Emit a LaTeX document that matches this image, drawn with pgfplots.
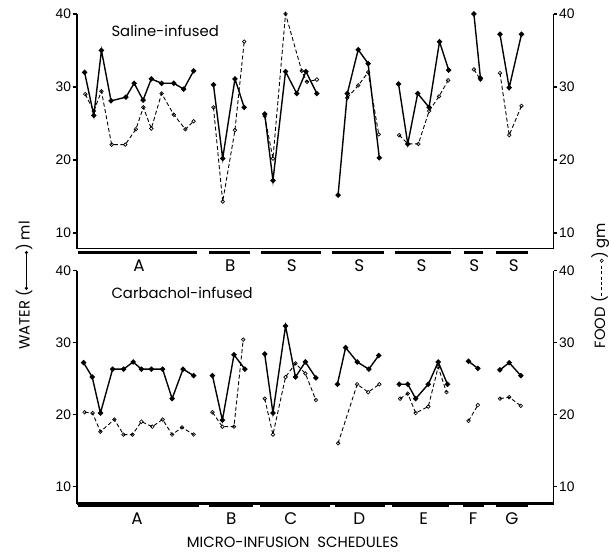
\documentclass[border=0pt]{standalone}
\usepackage{pgfplots}
\pgfplotsset{compat=1.18}
\usepackage{fontspec}
\setmainfont{Poppins}
\newfontfamily\numfont{Liberation Sans}
\newsavebox\waterkey
\newsavebox\foodkey

\pgfplotsset{
  panel/.style={
    scale only axis, width=481bp, xmin=72, xmax=553, ymax=40,
    ytick={10,20,30,40}, xtick=\empty, tick align=outside,
    major tick length=4bp,
    every tick/.style={line width=1.3bp, black},
    axis line style={line width=1.8bp, -},
    tick label style={font=\numfont\fontsize{14}{16}\selectfont},
    yticklabel style={inner xsep=1.5bp},
    /pgf/number format/assume math mode=true,
    clip=false,
  },
  water/.style={black, line width=1.4bp, mark=*, mark size=1.9bp},
  food/.style={black, line width=0.9bp, dash pattern=on 4bp off 2.5bp,
    mark=o, mark size=1.8bp, mark options={solid, fill=white, line width=0.7bp}},
}

\begin{document}
\sbox\waterkey{\tikz[baseline=-0.6ex]{\draw[line width=1bp] (0,0)--(36bp,0); \fill (0,0) circle (1.7bp) (36bp,0) circle (1.7bp);}}
\sbox\foodkey{\tikz[baseline=-0.6ex]{\draw[line width=0.8bp,dash pattern=on 3bp off 2.5bp] (0,0)--(34bp,0); \draw[line width=0.6bp,fill=white] (35.5bp,0) circle (1.6bp);}}
\begin{tikzpicture}
\path[use as bounding box] (0,0) rectangle (611bp,556bp);

% ---- saline-infused (top) ----
\begin{axis}[panel, at={(72bp,305bp)}, anchor=south west, height=237bp, ymin=7.84,
  axis x line*=bottom, axis y line*=left, x axis line style={line width=1.3bp}]
\addplot[food] coordinates {(80.7,29.0)(89.3,26.7)(97,29.4)(107.3,22.1)(121,22.1)(131.7,24.2)(139.3,27.2)(147.3,24.3)(157.7,29.1)(170,26.2)(181.7,24.2)(190,25.3)};
\addplot[water] coordinates {(80,32.0)(89.3,26.1)(97,35.0)(106.7,28.1)(121.7,28.6)(130,30.5)(139,28.2)(147.3,31.1)(157.7,30.5)(170,30.5)(180,29.7)(190,32.2)};
\addplot[food] coordinates {(210,27.2)(219.3,14.3)(231.7,24.1)(241,36.2)};
\addplot[water] coordinates {(210,30.3)(219.3,20.2)(231.7,31.1)(241,27.2)};
\addplot[food] coordinates {(261.7,26.0)(270,20.2)(282.7,40.0)(299,32.2)(304.3,30.7)(314.3,31.0)};
\addplot[water] coordinates {(261.7,26.3)(270,17.2)(282.7,32.1)(294,29.1)(303.3,32.1)(314.3,29.1)};
\addplot[food] coordinates {(345,28.5)(356,30.2)(366,32.0)(376.7,23.5)};
\addplot[water] coordinates {(335.7,15.2)(345,29.1)(356,35.1)(366,33.2)(377.3,20.3)};
\addplot[food] coordinates {(397.3,23.4)(406,22.2)(416.7,22.2)(427.5,26.7)(437.5,28.7)(446.7,30.9)};
\addplot[water] coordinates {(396.7,30.4)(406,22.2)(416,29.1)(427.5,27.2)(438,36.2)(447.3,32.3)};
\addplot[food] coordinates {(472.7,32.4)(479.3,31.0)};
\addplot[water] coordinates {(472.7,40.0)(479.3,31.2)};
\addplot[food] coordinates {(499,31.9)(508.3,23.4)(520.7,27.4)};
\addplot[water] coordinates {(499,37.2)(508.3,29.9)(520.7,37.2)};
\end{axis}
\begin{axis}[panel, at={(72bp,305bp)}, anchor=south west, height=237bp, ymin=7.84,
  hide x axis, axis y line*=right]
\end{axis}

% ---- carbachol-infused (bottom) ----
\begin{axis}[panel, at={(72bp,48bp)}, anchor=south west, height=235bp, ymin=7.6,
  axis x line*=bottom, axis y line*=left, x axis line style={line width=2.4bp}]
\addplot[food] coordinates {(80,20.3)(88,20.2)(96,17.6)(110,19.3)(119.3,17.2)(128.3,17.2)(137.3,19.0)(148.3,18.3)(158.7,19.3)(168.3,17.2)(178.3,18.2)(190,17.2)};
\addplot[water] coordinates {(79,27.2)(87.7,25.2)(96,20.2)(108.3,26.3)(119.3,26.3)(129,27.3)(137.3,26.3)(147.3,26.3)(158.7,26.3)(168.3,22.2)(179.3,26.3)(190,25.4)};
\addplot[food] coordinates {(209,20.3)(219,18.3)(230.7,18.3)(240,30.4)};
\addplot[water] coordinates {(209,25.4)(219,19.2)(230.7,28.3)(241.7,26.3)};
\addplot[food] coordinates {(261.7,22.2)(270,17.2)(282.7,25.2)(292.7,27.1)(302.7,25.7)(313.3,22.0)};
\addplot[water] coordinates {(261.7,28.4)(270,20.2)(282.7,32.3)(292.7,25.2)(302.7,27.3)(313.3,25.1)};
\addplot[food] coordinates {(335.7,16.0)(355,24.2)(366,23.1)(377.3,24.2)};
\addplot[water] coordinates {(335,24.2)(343.3,29.3)(355,27.3)(366.7,26.3)(376.7,28.2)};
\addplot[food] coordinates {(398.3,22.2)(406,22.9)(414,20.2)(426.7,21.1)(436.7,26.6)(445,23.1)};
\addplot[water] coordinates {(397.3,24.2)(406,24.2)(414,22.2)(426.7,24.2)(436.7,27.3)(446,24.2)};
\addplot[food] coordinates {(467.3,19.1)(476.7,21.3)};
\addplot[water] coordinates {(467.3,27.4)(476.7,26.4)};
\addplot[food] coordinates {(499,22.2)(508.3,22.4)(520,21.2)};
\addplot[water] coordinates {(499,26.2)(508.3,27.2)(520,25.4)};
\end{axis}
\begin{axis}[panel, at={(72bp,48bp)}, anchor=south west, height=235bp, ymin=7.6,
  hide x axis, axis y line*=right]
\end{axis}

% schedule bars under the x axes
\foreach \a/\b in {73/193,205/247,258/318,330/382,393/450,463/482,495/527}
  \draw[line width=3bp] (\a bp,301.5bp) -- (\b bp,301.5bp);
\foreach \a/\b in {73/195,205/250,257/328,333/383,390/448,462/483,495/527}
  \draw[line width=3bp] (\a bp,46.5bp) -- (\b bp,46.5bp);

% texts
\tikzset{lab/.style={font=\fontsize{17}{19}\selectfont, inner sep=0pt}}
\foreach \x/\t in {135/A,227/B,289/S,357/S,420/S,473/S,513/S}
  \node[lab] at (\x bp,288bp) {\t};
\foreach \x/\t in {133/A,228/B,288/C,357/D,422/E,472/F,511/G}
  \node[lab] at (\x bp,33bp) {\t};
\node[font=\fontsize{15}{17}\selectfont, anchor=west, inner sep=0pt] at (107bp,525bp) {Saline-infused};
\node[font=\fontsize{15}{17}\selectfont, anchor=west, inner sep=0pt] at (107bp,261bp) {Carbachol-infused};
\node[font=\fontsize{15}{17}\selectfont, inner sep=0pt] at (290bp,9bp) {MICRO-INFUSION\ \ SCHEDULES};
\node[font=\fontsize{15}{17}\selectfont, inner sep=0pt, rotate=90] at (19bp,268bp) {WATER (\usebox\waterkey) ml};
\node[font=\fontsize{15}{17}\selectfont, inner sep=0pt, rotate=90] at (600bp,268bp) {FOOD (\usebox\foodkey) gm};
\end{tikzpicture}
\end{document}
